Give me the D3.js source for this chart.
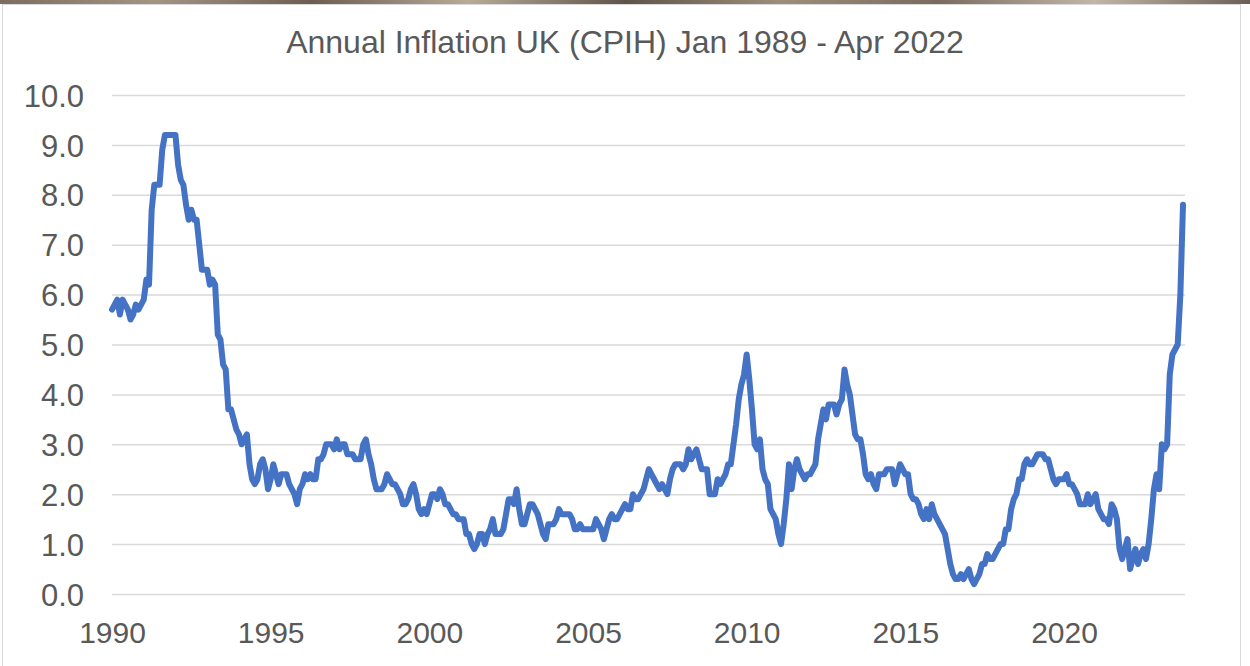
<!DOCTYPE html>
<html>
<head>
<meta charset="utf-8">
<script src="https://cdn.jsdelivr.net/npm/d3@7"></script>
<style>
  body { margin: 0; background: #ffffff; }
  #chart text { font-family: "Liberation Sans", Arial, sans-serif; fill: #595959; }
</style>
</head>
<body>
<div id="chart"></div>
<script>
    //Chart size and plot area.
    let w = 1250;
    let h = 666;
    let plot = { left: 112, right: 1185, top: 95, bottom: 594 };

    //Monthly annual CPIH inflation, one row per twelve months.
    const inflation = [
      5.7, 5.8, 5.9, 5.6, 5.9, 5.8, 5.7, 5.5, 5.6, 5.8, 5.7, 5.8,
      5.9, 6.3, 6.2, 7.7, 8.2, 8.2, 8.2, 8.9, 9.2, 9.2, 9.2, 9.2,
      9.2, 8.6, 8.3, 8.2, 7.8, 7.5, 7.7, 7.5, 7.5, 7.0, 6.5, 6.5,
      6.5, 6.2, 6.3, 6.2, 5.2, 5.1, 4.6, 4.5, 3.7, 3.7, 3.5, 3.3,
      3.2, 3.0, 3.1, 3.2, 2.6, 2.3, 2.2, 2.3, 2.6, 2.7, 2.5, 2.1,
      2.3, 2.6, 2.4, 2.2, 2.4, 2.4, 2.4, 2.2, 2.1, 2.0, 1.8, 2.1,
      2.2, 2.4, 2.3, 2.4, 2.3, 2.3, 2.7, 2.7, 2.8, 3.0, 3.0, 3.0,
      2.9, 3.1, 2.9, 3.0, 3.0, 2.8, 2.8, 2.8, 2.7, 2.7, 2.7, 3.0,
      3.1, 2.8, 2.6, 2.3, 2.1, 2.1, 2.1, 2.2, 2.4, 2.3, 2.2, 2.2,
      2.1, 2.0, 1.8, 1.8, 1.9, 2.1, 2.2, 2.0, 1.7, 1.6, 1.7, 1.6,
      1.8, 2.0, 2.0, 1.9, 2.1, 2.0, 1.8, 1.8, 1.7, 1.6, 1.6, 1.5,
      1.5, 1.5, 1.2, 1.2, 1.0, 0.9, 1.0, 1.2, 1.2, 1.0, 1.2, 1.3,
      1.5, 1.2, 1.2, 1.2, 1.3, 1.6, 1.9, 1.9, 1.8, 2.1, 1.7, 1.4,
      1.4, 1.6, 1.8, 1.8, 1.7, 1.6, 1.4, 1.2, 1.1, 1.4, 1.4, 1.4,
      1.5, 1.7, 1.6, 1.6, 1.6, 1.6, 1.5, 1.3, 1.3, 1.4, 1.3, 1.3,
      1.3, 1.3, 1.3, 1.5, 1.4, 1.3, 1.1, 1.3, 1.5, 1.6, 1.5, 1.5,
      1.6, 1.7, 1.8, 1.7, 1.7, 2.0, 1.9, 1.9, 2.0, 2.1, 2.3, 2.5,
      2.4, 2.3, 2.2, 2.1, 2.2, 2.1, 2.0, 2.3, 2.5, 2.6, 2.6, 2.6,
      2.5, 2.6, 2.9, 2.7, 2.8, 2.9, 2.7, 2.5, 2.5, 2.5, 2.0, 2.0,
      2.0, 2.3, 2.2, 2.3, 2.4, 2.6, 2.6, 3.0, 3.4, 3.9, 4.2, 4.4,
      4.8, 4.3, 3.7, 3.0, 2.9, 3.1, 2.5, 2.3, 2.2, 1.7, 1.6, 1.5,
      1.2, 1.0, 1.4, 1.9, 2.6, 2.1, 2.5, 2.7, 2.5, 2.4, 2.3, 2.4,
      2.4, 2.5, 2.6, 3.1, 3.4, 3.7, 3.5, 3.8, 3.8, 3.8, 3.6, 3.8,
      3.9, 4.5, 4.2, 4.0, 3.6, 3.2, 3.1, 3.1, 2.8, 2.4, 2.3, 2.4,
      2.2, 2.1, 2.4, 2.4, 2.4, 2.5, 2.5, 2.5, 2.2, 2.4, 2.6, 2.5,
      2.4, 2.4, 2.0, 1.9, 1.9, 1.8, 1.6, 1.5, 1.7, 1.5, 1.8, 1.6,
      1.5, 1.4, 1.3, 1.2, 0.9, 0.6, 0.4, 0.3, 0.3, 0.4, 0.3, 0.4,
      0.5, 0.3, 0.2, 0.3, 0.4, 0.6, 0.6, 0.8, 0.7, 0.7, 0.8, 0.9,
      1.0, 1.0, 1.3, 1.3, 1.7, 1.9, 2.0, 2.3, 2.3, 2.6, 2.7, 2.6,
      2.6, 2.7, 2.8, 2.8, 2.8, 2.7, 2.7, 2.5, 2.3, 2.2, 2.3, 2.3,
      2.3, 2.4, 2.2, 2.2, 2.1, 2.0, 1.8, 1.8, 1.8, 2.0, 1.8, 1.9,
      2.0, 1.7, 1.6, 1.5, 1.5, 1.4, 1.8, 1.7, 1.5, 0.9, 0.7, 0.9,
      1.1, 0.5, 0.7, 0.9, 0.6, 0.8, 0.9, 0.7, 1.0, 1.5, 2.1, 2.4,
      2.1, 3.0, 2.9, 3.0, 4.4, 4.8, 4.9, 5.0, 6.0, 7.8
    ];

    //Axis labels as they appear on the chart.
    const xTickLabels = ["1990", "1995", "2000", "2005", "2010", "2015", "2020"];
    const yTicks = [0, 1, 2, 3, 4, 5, 6, 7, 8, 9, 10];
    const monthsPerLabel = 60;

    const title = "Annual Inflation UK (CPIH) Jan 1989 - Apr 2022";

    let xScale
    let yScale

    //Appends the svg element.
    const svg = d3.select("#chart")
                .append("svg")
                .attr("width", w)
                .attr("height", h)
                .attr("viewBox", "0 0 " + w + " " + h)

    getScales();
    drawFrame();
    drawAxis();
    drawChart();

    //Month index runs along x, percent up y.
    function getScales() {
        xScale = d3.scaleLinear()
                   .domain([0, inflation.length - 1])
                   .range([plot.left, 1183]);

        yScale = d3.scaleLinear()
                   .domain([0, 10])
                   .range([plot.bottom, plot.top]);
    }

    //Chart border and the bit of photo showing above it.
    function drawFrame() {
        const grad = svg.append("defs").append("linearGradient")
            .attr("id", "strip")
        const stops = ["#7d6d5e", "#a39584", "#6e5d52", "#b7ab98", "#5f5449", "#9d8f7a", "#7a6a60", "#c2b7a6", "#6c5f57"]
        stops.forEach((c, i) => {
            grad.append("stop").attr("offset", (i / (stops.length - 1))).attr("stop-color", c)
        })
        svg.append("rect")
            .attr("x", 0).attr("y", 0)
            .attr("width", w).attr("height", 4)
            .attr("fill", "url(#strip)")

        svg.append("rect")
            .attr("x", 2.5).attr("y", 4.5)
            .attr("width", 1238).attr("height", h)
            .attr("fill", "#ffffff")
            .attr("stroke", "#d9d9d9")
            .attr("stroke-width", 1)
    }

    //Gridlines, tick labels and title.
    function drawAxis() {
        const yAxis = d3.axisLeft(yScale)
                        .tickValues(yTicks)
                        .tickFormat(d3.format(".1f"))
                        .tickSize(-(plot.right - plot.left))
                        .tickPadding(28)

        const gy = svg.append("g")
            .attr("id", "y-axis")
            .attr("transform", "translate(" + plot.left + ",0)")
            .call(yAxis)
        gy.select(".domain").remove()
        gy.selectAll(".tick line")
            .attr("stroke", "#d9d9d9")
            .attr("stroke-width", 1.5)
        gy.selectAll(".tick text")
            .attr("font-size", 31)
            .attr("dy", "0.36em")

        const xAxis = d3.axisBottom(xScale)
                        .tickValues(xTickLabels.map((d, i) => i * monthsPerLabel))
                        .tickFormat((d, i) => xTickLabels[i])
                        .tickSize(0)
                        .tickPadding(28)

        const gx = svg.append("g")
            .attr("id", "x-axis")
            .attr("transform", "translate(0," + plot.bottom + ")")
            .call(xAxis)
        gx.select(".domain").remove()
        gx.selectAll(".tick text")
            .attr("font-size", 30)

        svg.append("text")
            .attr("id", "title")
            .attr("x", w / 2)
            .attr("y", 53)
            .style("text-anchor", "middle")
            .attr("font-size", 32)
            .text(title)
    }

    //The inflation line itself.
    function drawChart() {
        const line = d3.line()
            .x((d, i) => xScale(i))
            .y((d) => yScale(d))

        svg.append("path")
            .datum(inflation)
            .attr("d", line)
            .attr("fill", "none")
            .attr("stroke", "#4472c4")
            .attr("stroke-width", 6)
            .attr("stroke-linejoin", "round")
            .attr("stroke-linecap", "round")
    }
</script>
</body>
</html>
